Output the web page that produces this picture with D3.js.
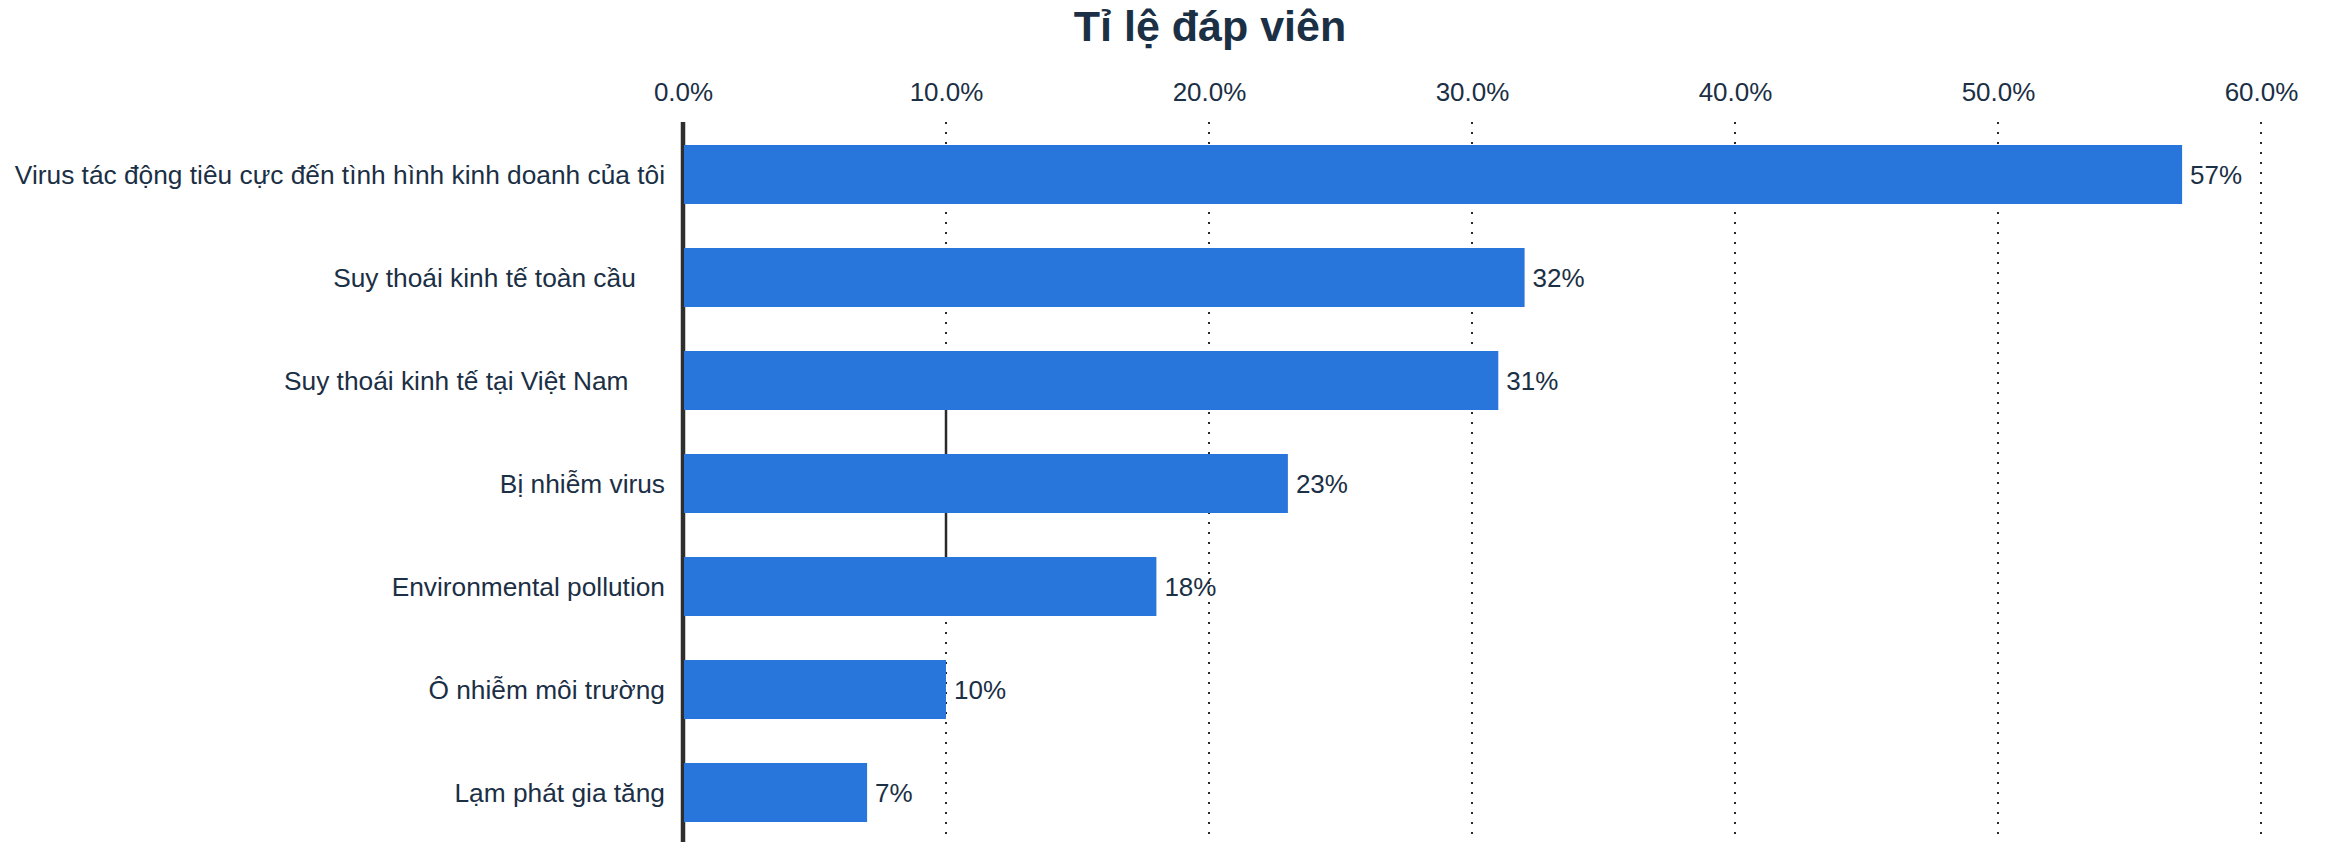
<!DOCTYPE html>
<html>
<head>
<meta charset="utf-8">
<script src="https://cdn.jsdelivr.net/npm/d3@7"></script>
<style>
  html, body { margin: 0; padding: 0; background: #fff; }
  svg text { font-family: "Liberation Sans", Arial, sans-serif; fill: #1b2f45; white-space: pre; }
</style>
</head>
<body>
<svg id="chart" width="2331" height="842"></svg>
<script>
// chart data
const title = "Tỉ lệ đáp viên";
const categories = [
    "Virus tác động tiêu cực đến tình hình kinh doanh của tôi",
    "Suy thoái kinh tế toàn cầu    ",
    "Suy thoái kinh tế tại Việt Nam     ",
    "Bị nhiễm virus",
    "Environmental pollution",
    "Ô nhiễm môi trường",
    "Lạm phát gia tăng"
];
const values = [57, 32, 31, 23, 18, 10, 7];
const tickValues = [0, 10, 20, 30, 40, 50, 60];

const width = 2331, height = 842;
const margin = { top: 122, right: 70, bottom: 0, left: 683 };

let svg = d3.select("#chart");

let x = d3.scaleLinear()
    .domain([0, 60])
    .range([margin.left, width - margin.right]);

let y = d3.scaleBand()
    .domain(categories)
    .range([margin.top + 1, height + 2])
    .paddingInner(0.427)
    .paddingOuter(0.2135);

// title
svg.append("text")
    .attr("x", 1210)
    .attr("y", 41)
    .attr("text-anchor", "middle")
    .style("font-size", "43px")
    .style("font-weight", "bold")
    .text(title);

// top axis, labels only
let xAxis = svg.append("g")
    .attr("class", "x-axis")
    .attr("transform", `translate(0, ${margin.top})`)
    .call(d3.axisTop(x).tickValues(tickValues).tickSize(0).tickPadding(21).tickFormat(d => d.toFixed(1) + "%"));
xAxis.select(".domain").remove();
xAxis.selectAll("text")
    .style("font-size", "26px")
    .style("font-family", "'Liberation Sans', Arial, sans-serif")
    .attr("fill", "#1b2f45");

// dotted grid lines
svg.append("g")
    .attr("class", "grid")
    .selectAll("line")
    .data(tickValues.filter(d => d > 0))
    .enter()
    .append("line")
        .attr("x1", d => x(d))
        .attr("x2", d => x(d))
        .attr("y1", margin.top)
        .attr("y2", height)
        .attr("stroke", "#2a2a2a")
        .attr("stroke-width", 2)
        .attr("stroke-dasharray", "2,8");

// the 10% line is drawn solid between the 3rd and 5th bars in the original
svg.append("line")
    .attr("x1", x(10))
    .attr("x2", x(10))
    .attr("y1", y(categories[2]) + y.bandwidth())
    .attr("y2", y(categories[4]))
    .attr("stroke", "#2a2a2a")
    .attr("stroke-width", 2.5);

// zero axis
svg.append("line")
    .attr("x1", x(0))
    .attr("x2", x(0))
    .attr("y1", margin.top)
    .attr("y2", height)
    .attr("stroke", "#2e2e2e")
    .attr("stroke-width", 4.5);

// bars
let rows = categories.map((c, i) => ({ category: c, value: values[i] }));

svg.append("g")
    .attr("class", "bars")
    .selectAll("rect")
    .data(rows)
    .enter()
    .append("rect")
        .attr("x", x(0) + 1)
        .attr("y", d => y(d.category))
        .attr("width", d => x(d.value) - x(0) - 1)
        .attr("height", y.bandwidth())
        .attr("fill", "#2876dc");

// value labels
svg.append("g")
    .attr("class", "value-labels")
    .selectAll("text")
    .data(rows)
    .enter()
    .append("text")
        .attr("x", d => x(d.value) + 8)
        .attr("y", d => y(d.category) + y.bandwidth() / 2)
        .attr("dy", "0.35em")
        .style("font-size", "26px")
        .text(d => d.value + "%");

// category labels
svg.append("g")
    .attr("class", "category-labels")
    .selectAll("text")
    .data(rows)
    .enter()
    .append("text")
        .attr("x", x(0) - 18)
        .attr("y", d => y(d.category) + y.bandwidth() / 2)
        .attr("dy", "0.35em")
        .attr("text-anchor", "end")
        .style("font-size", "26.3px")
        .text(d => d.category);
</script>
</body>
</html>
